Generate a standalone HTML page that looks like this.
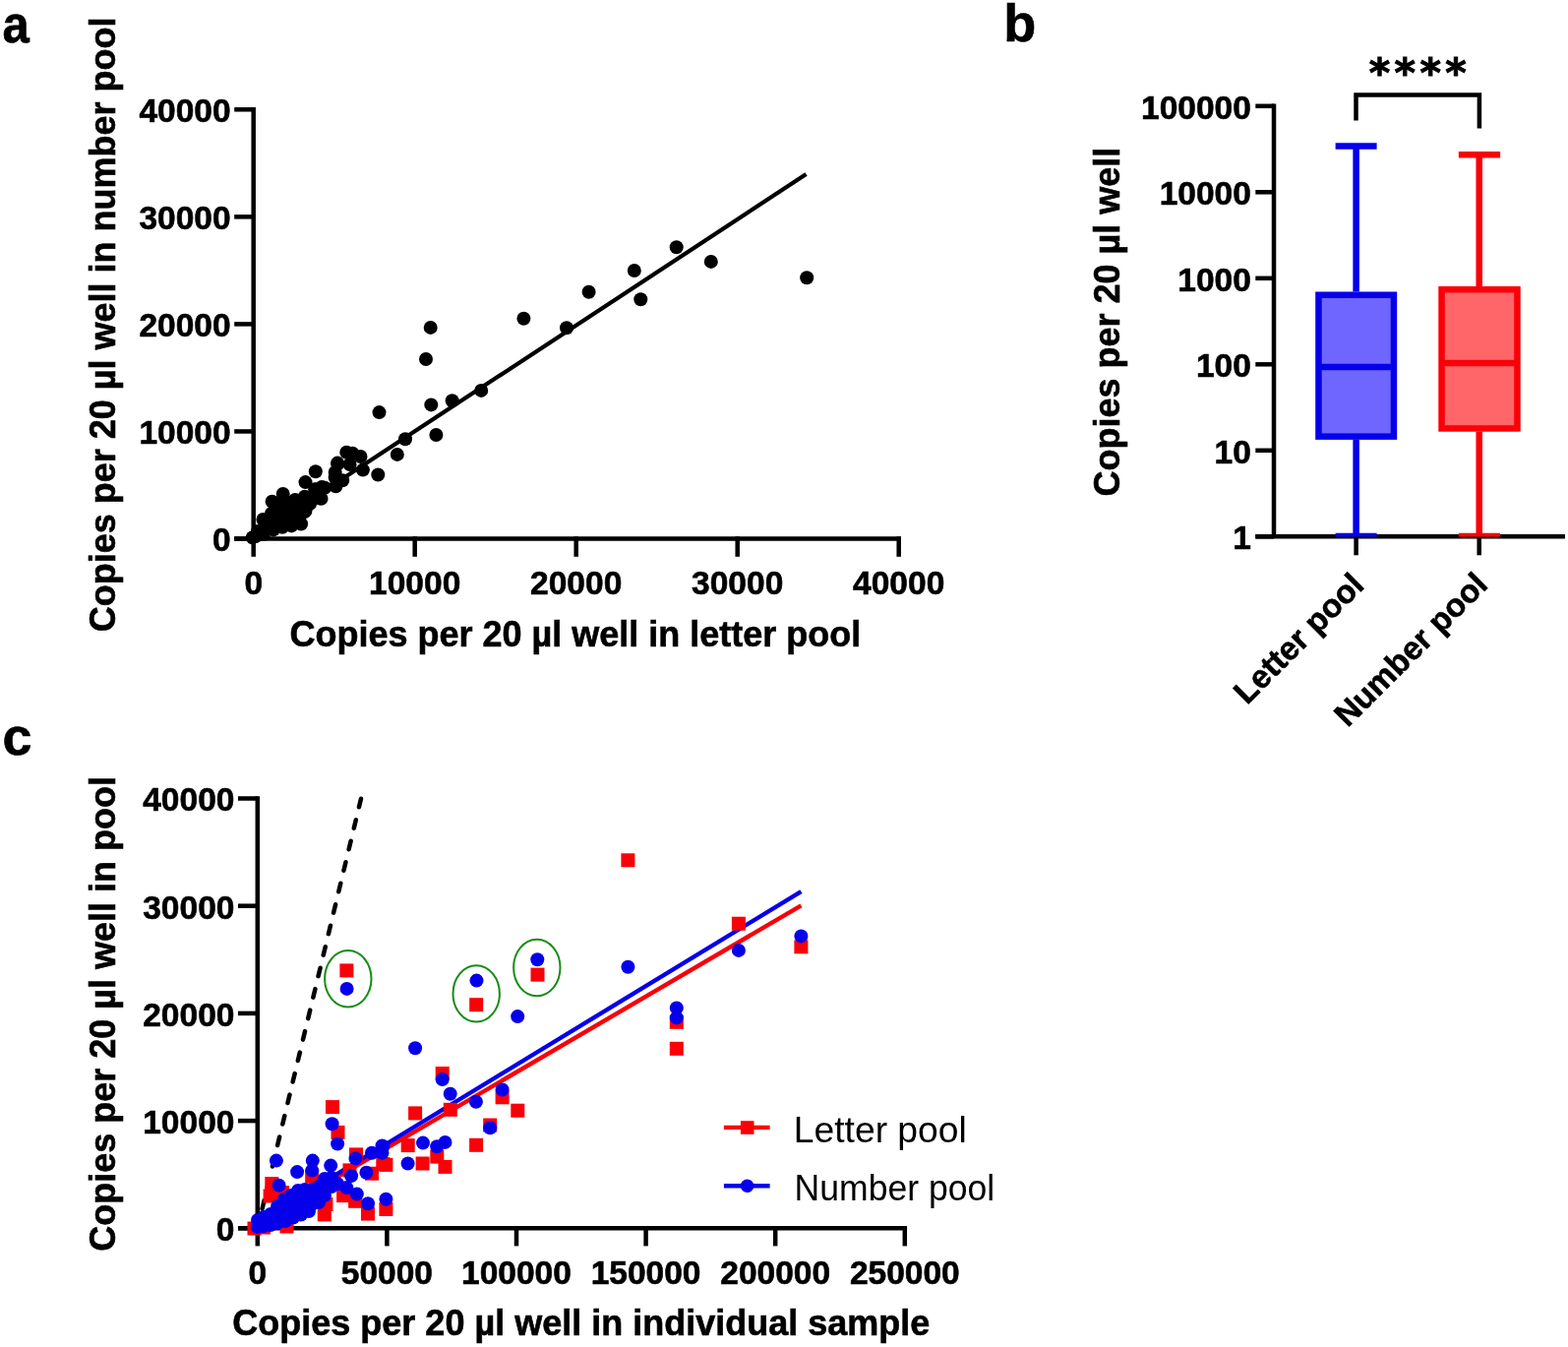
<!DOCTYPE html>
<html><head><meta charset="utf-8"><title>Figure</title>
<style>
html,body{margin:0;padding:0;background:#fff;}
svg{display:block;}
text{font-family:"Liberation Sans", Arial, Helvetica, sans-serif;fill:#000;}
text[font-weight="bold"]{stroke:#000;stroke-width:0.6px;}
</style></head>
<body>
<svg width="1594" height="1369" viewBox="0 0 1594 1369">
<rect width="1594" height="1369" fill="#fff"/>
<path d="M257.7 109.05 V547.5" stroke="#000" stroke-width="4.5" fill="none"/>
<line x1="238.2" y1="547.5" x2="257.7" y2="547.5" stroke="#000" stroke-width="4.5" />
<text x="234.6" y="560.3" font-size="33.5" text-anchor="end" font-weight="bold" >0</text>
<line x1="238.2" y1="438.45" x2="257.7" y2="438.45" stroke="#000" stroke-width="4.5" />
<text x="234.6" y="451.25" font-size="33.5" text-anchor="end" font-weight="bold" >10000</text>
<line x1="238.2" y1="329.4" x2="257.7" y2="329.4" stroke="#000" stroke-width="4.5" />
<text x="234.6" y="342.2" font-size="33.5" text-anchor="end" font-weight="bold" >20000</text>
<line x1="238.2" y1="220.35" x2="257.7" y2="220.35" stroke="#000" stroke-width="4.5" />
<text x="234.6" y="233.15" font-size="33.5" text-anchor="end" font-weight="bold" >30000</text>
<line x1="238.2" y1="111.3" x2="257.7" y2="111.3" stroke="#000" stroke-width="4.5" />
<text x="234.6" y="124.1" font-size="33.5" text-anchor="end" font-weight="bold" >40000</text>
<line x1="238.2" y1="547.5" x2="915.95" y2="547.5" stroke="#000" stroke-width="4.5" />
<line x1="257.7" y1="545.25" x2="257.7" y2="565.8" stroke="#000" stroke-width="4.5" />
<text x="257.7" y="603.7" font-size="33.5" text-anchor="middle" font-weight="bold" >0</text>
<line x1="421.7" y1="545.25" x2="421.7" y2="565.8" stroke="#000" stroke-width="4.5" />
<text x="421.7" y="603.7" font-size="33.5" text-anchor="middle" font-weight="bold" >10000</text>
<line x1="585.7" y1="545.25" x2="585.7" y2="565.8" stroke="#000" stroke-width="4.5" />
<text x="585.7" y="603.7" font-size="33.5" text-anchor="middle" font-weight="bold" >20000</text>
<line x1="749.7" y1="545.25" x2="749.7" y2="565.8" stroke="#000" stroke-width="4.5" />
<text x="749.7" y="603.7" font-size="33.5" text-anchor="middle" font-weight="bold" >30000</text>
<line x1="913.7" y1="545.25" x2="913.7" y2="565.8" stroke="#000" stroke-width="4.5" />
<text x="913.7" y="603.7" font-size="33.5" text-anchor="middle" font-weight="bold" >40000</text>
<text transform="translate(117.4 329.9) rotate(-90)" font-size="36" text-anchor="middle" font-weight="bold">Copies per 20 µl well in number pool</text>
<text x="584.9" y="656.6" font-size="36" text-anchor="middle" font-weight="bold" >Copies per 20 µl well in letter pool</text>
<text x="2.4" y="42.8" font-size="54" text-anchor="start" font-weight="bold" textLength="27.3" lengthAdjust="spacingAndGlyphs">a</text>
<line x1="257.7" y1="546" x2="819.5" y2="177.1" stroke="#000" stroke-width="4.2" stroke-linecap="butt"/>
<g fill="#000">
<circle cx="820.2" cy="282.2" r="7.0"/>
<circle cx="722.8" cy="265.9" r="7.0"/>
<circle cx="687.7" cy="251.2" r="7.0"/>
<circle cx="644.8" cy="275" r="7.0"/>
<circle cx="651.3" cy="304.3" r="7.0"/>
<circle cx="598.6" cy="296.8" r="7.0"/>
<circle cx="576" cy="333.3" r="7.0"/>
<circle cx="532.4" cy="323.8" r="7.0"/>
<circle cx="437.7" cy="332.9" r="7.0"/>
<circle cx="433" cy="365" r="7.0"/>
<circle cx="385.5" cy="419.1" r="7.0"/>
<circle cx="438.3" cy="411.4" r="7.0"/>
<circle cx="459.7" cy="407.3" r="7.0"/>
<circle cx="489.2" cy="396.9" r="7.0"/>
<circle cx="412" cy="446.2" r="7.0"/>
<circle cx="443.4" cy="442" r="7.0"/>
<circle cx="403.8" cy="461.9" r="7.0"/>
<circle cx="384.3" cy="482.5" r="7.0"/>
<circle cx="352.3" cy="459.8" r="7.0"/>
<circle cx="358.3" cy="460.8" r="7.0"/>
<circle cx="366.5" cy="464" r="7.0"/>
<circle cx="343.1" cy="470.6" r="7.0"/>
<circle cx="355.6" cy="472" r="7.0"/>
<circle cx="343.3" cy="471.6" r="7.0"/>
<circle cx="340.7" cy="479.9" r="7.0"/>
<circle cx="340.7" cy="485.2" r="7.0"/>
<circle cx="348.2" cy="488.2" r="7.0"/>
<circle cx="368.9" cy="477.6" r="7.0"/>
<circle cx="341.4" cy="494.2" r="7.0"/>
<circle cx="330.1" cy="495.7" r="7.0"/>
<circle cx="320.3" cy="497.2" r="7.0"/>
<circle cx="324.8" cy="506.3" r="7.0"/>
<circle cx="309.8" cy="504.8" r="7.0"/>
<circle cx="317.3" cy="507.8" r="7.0"/>
<circle cx="310.5" cy="519.1" r="7.0"/>
<circle cx="303.8" cy="513.8" r="7.0"/>
<circle cx="304.5" cy="525.1" r="7.0"/>
<circle cx="320.8" cy="479.2" r="7.0"/>
<circle cx="310.5" cy="490.1" r="7.0"/>
<circle cx="287.7" cy="501.9" r="7.0"/>
<circle cx="276.6" cy="509.8" r="7.0"/>
<circle cx="320.6" cy="497.6" r="7.0"/>
<circle cx="327.2" cy="495" r="7.0"/>
<circle cx="326.5" cy="506.8" r="7.0"/>
<circle cx="309.8" cy="520" r="7.0"/>
<circle cx="306.1" cy="532.5" r="7.0"/>
<circle cx="296.3" cy="534.4" r="7.0"/>
<circle cx="287.1" cy="535.7" r="7.0"/>
<circle cx="267.4" cy="527.9" r="7.0"/>
<circle cx="275.9" cy="521.9" r="7.0"/>
<circle cx="256.8" cy="546.3" r="7.0"/>
<circle cx="264.7" cy="542.3" r="7.0"/>
<circle cx="277.9" cy="538.4" r="7.0"/>
<circle cx="295" cy="515" r="7.0"/>
<circle cx="300" cy="522" r="7.0"/>
<circle cx="290" cy="525" r="7.0"/>
<circle cx="285" cy="518" r="7.0"/>
<circle cx="280" cy="528" r="7.0"/>
<circle cx="270" cy="535" r="7.0"/>
<circle cx="262" cy="540" r="7.0"/>
<circle cx="300" cy="508" r="7.0"/>
<circle cx="315" cy="512" r="7.0"/>
<circle cx="295" cy="530" r="7.0"/>
<circle cx="282" cy="512" r="7.0"/>
<circle cx="290" cy="510" r="7.0"/>
<circle cx="272" cy="530" r="7.0"/>
<circle cx="260" cy="545" r="7.0"/>
<circle cx="268" cy="543" r="7.0"/>
</g>
<path d="M1295 105.55 V545.3" stroke="#000" stroke-width="4.5" fill="none"/>
<line x1="1276.3" y1="545.3" x2="1295" y2="545.3" stroke="#000" stroke-width="4.5" />
<text x="1271.8" y="558.1" font-size="33.5" text-anchor="end" font-weight="bold" >1</text>
<line x1="1276.3" y1="457.8" x2="1295" y2="457.8" stroke="#000" stroke-width="4.5" />
<text x="1271.8" y="470.6" font-size="33.5" text-anchor="end" font-weight="bold" >10</text>
<line x1="1276.3" y1="370.3" x2="1295" y2="370.3" stroke="#000" stroke-width="4.5" />
<text x="1271.8" y="383.1" font-size="33.5" text-anchor="end" font-weight="bold" >100</text>
<line x1="1276.3" y1="282.8" x2="1295" y2="282.8" stroke="#000" stroke-width="4.5" />
<text x="1271.8" y="295.6" font-size="33.5" text-anchor="end" font-weight="bold" >1000</text>
<line x1="1276.3" y1="195.3" x2="1295" y2="195.3" stroke="#000" stroke-width="4.5" />
<text x="1271.8" y="208.1" font-size="33.5" text-anchor="end" font-weight="bold" >10000</text>
<line x1="1276.3" y1="107.8" x2="1295" y2="107.8" stroke="#000" stroke-width="4.5" />
<text x="1271.8" y="120.6" font-size="33.5" text-anchor="end" font-weight="bold" >100000</text>
<line x1="1276.3" y1="545.3" x2="1591" y2="545.3" stroke="#000" stroke-width="4.5" />
<line x1="1378.6" y1="545.3" x2="1378.6" y2="564.3" stroke="#000" stroke-width="4.5" />
<line x1="1503.7" y1="545.3" x2="1503.7" y2="564.3" stroke="#000" stroke-width="4.5" />
<text transform="translate(1137.9 327.1) rotate(-90)" font-size="36" text-anchor="middle" font-weight="bold" dy="0">Copies per 20 µl well</text>
<text x="1020.2" y="41.5" font-size="54" text-anchor="start" font-weight="bold" >b</text>
<line x1="1378.6" y1="148.6" x2="1378.6" y2="296.5" stroke="#0600ea" stroke-width="6.5" />
<line x1="1378.6" y1="446.9" x2="1378.6" y2="543.6" stroke="#0600ea" stroke-width="6.5" />
<line x1="1357.6" y1="148.6" x2="1399.6" y2="148.6" stroke="#0600ea" stroke-width="6.5" />
<line x1="1357.6" y1="543.6" x2="1399.6" y2="543.6" stroke="#0600ea" stroke-width="3.8" />
<rect x="1340.45" y="299.75" width="76.5" height="143.9" fill="#6e66ff" stroke="#0600ea" stroke-width="6.5"/>
<line x1="1340.45" y1="373" x2="1416.95" y2="373" stroke="#0600ea" stroke-width="6.5" />
<line x1="1503.7" y1="157.3" x2="1503.7" y2="291" stroke="#fa0008" stroke-width="6.5" />
<line x1="1503.7" y1="438.7" x2="1503.7" y2="543.6" stroke="#fa0008" stroke-width="6.5" />
<line x1="1482.8" y1="157.3" x2="1525.1" y2="157.3" stroke="#fa0008" stroke-width="6.5" />
<line x1="1482.8" y1="543.6" x2="1525.1" y2="543.6" stroke="#fa0008" stroke-width="3.8" />
<rect x="1465.55" y="294.25" width="76.9" height="141.2" fill="#ff6669" stroke="#fa0008" stroke-width="6.5"/>
<line x1="1465.55" y1="369" x2="1542.45" y2="369" stroke="#fa0008" stroke-width="6.5" />
<path d="M1378.5 122.5 V96.6 H1503.9 V130.5" stroke="#000" stroke-width="4.5" fill="none"/>
<text x="1443.4" y="88.3" font-size="41" text-anchor="middle" font-weight="bold" stroke="#000" stroke-width="1" style="font-family:'DejaVu Sans', sans-serif;letter-spacing:4.4px;stroke-width:1px">****</text>
<text transform="translate(1388.3 596.5) rotate(-45)" font-size="33" text-anchor="end" font-weight="bold">Letter pool</text>
<text transform="translate(1513.9 596.1) rotate(-45)" font-size="33" text-anchor="end" font-weight="bold">Number pool</text>
<path d="M261.8 809.25 V1248.3" stroke="#000" stroke-width="4.5" fill="none"/>
<line x1="242" y1="1248.3" x2="261.8" y2="1248.3" stroke="#000" stroke-width="4.5" />
<text x="238.4" y="1261.1" font-size="33.5" text-anchor="end" font-weight="bold" >0</text>
<line x1="242" y1="1139.1" x2="261.8" y2="1139.1" stroke="#000" stroke-width="4.5" />
<text x="238.4" y="1151.9" font-size="33.5" text-anchor="end" font-weight="bold" >10000</text>
<line x1="242" y1="1029.9" x2="261.8" y2="1029.9" stroke="#000" stroke-width="4.5" />
<text x="238.4" y="1042.7" font-size="33.5" text-anchor="end" font-weight="bold" >20000</text>
<line x1="242" y1="920.7" x2="261.8" y2="920.7" stroke="#000" stroke-width="4.5" />
<text x="238.4" y="933.5" font-size="33.5" text-anchor="end" font-weight="bold" >30000</text>
<line x1="242" y1="811.5" x2="261.8" y2="811.5" stroke="#000" stroke-width="4.5" />
<text x="238.4" y="824.3" font-size="33.5" text-anchor="end" font-weight="bold" >40000</text>
<line x1="242" y1="1248.3" x2="922.05" y2="1248.3" stroke="#000" stroke-width="4.5" />
<line x1="261.8" y1="1246.05" x2="261.8" y2="1266.4" stroke="#000" stroke-width="4.5" />
<text x="261.8" y="1304.5" font-size="33.5" text-anchor="middle" font-weight="bold" >0</text>
<line x1="393.4" y1="1246.05" x2="393.4" y2="1266.4" stroke="#000" stroke-width="4.5" />
<text x="393.4" y="1304.5" font-size="33.5" text-anchor="middle" font-weight="bold" >50000</text>
<line x1="525" y1="1246.05" x2="525" y2="1266.4" stroke="#000" stroke-width="4.5" />
<text x="525" y="1304.5" font-size="33.5" text-anchor="middle" font-weight="bold" >100000</text>
<line x1="656.6" y1="1246.05" x2="656.6" y2="1266.4" stroke="#000" stroke-width="4.5" />
<text x="656.6" y="1304.5" font-size="33.5" text-anchor="middle" font-weight="bold" >150000</text>
<line x1="788.2" y1="1246.05" x2="788.2" y2="1266.4" stroke="#000" stroke-width="4.5" />
<text x="788.2" y="1304.5" font-size="33.5" text-anchor="middle" font-weight="bold" >200000</text>
<line x1="919.8" y1="1246.05" x2="919.8" y2="1266.4" stroke="#000" stroke-width="4.5" />
<text x="919.8" y="1304.5" font-size="33.5" text-anchor="middle" font-weight="bold" >250000</text>
<text transform="translate(117.2 1030.4) rotate(-90)" font-size="36" text-anchor="middle" font-weight="bold">Copies per 20 µl well in pool</text>
<text x="590.8" y="1356.6" font-size="36" text-anchor="middle" font-weight="bold" >Copies per 20 µl well in individual sample</text>
<text x="2.4" y="767" font-size="54" text-anchor="start" font-weight="bold" >c</text>
<line x1="261.8" y1="1248.3" x2="367.08" y2="811.5" stroke="#000" stroke-width="4.5" stroke-dasharray="8.7 13.4" stroke-linecap="round" stroke-dashoffset="1.7"/>
<ellipse cx="353.8" cy="994.8" rx="23.7" ry="28.7" fill="none" stroke="#178c17" stroke-width="2"/>
<ellipse cx="484.2" cy="1009.9" rx="23.7" ry="28.7" fill="none" stroke="#178c17" stroke-width="2"/>
<ellipse cx="545.8" cy="983.5" rx="23.7" ry="28.7" fill="none" stroke="#178c17" stroke-width="2"/>
<line x1="261.8" y1="1243.7" x2="814.4" y2="920.4" stroke="#fa0008" stroke-width="4.4" />
<line x1="261.8" y1="1242.3" x2="814.4" y2="906.1" stroke="#0600ea" stroke-width="4.4" />
<g fill="#fa0008">
<rect x="345.4" y="979.4" width="14.0" height="14.0"/>
<rect x="477.2" y="1014.2" width="14.0" height="14.0"/>
<rect x="539.5" y="983.6" width="14.0" height="14.0"/>
<rect x="631.4" y="867.3" width="14.0" height="14.0"/>
<rect x="743.9" y="931.7" width="14.0" height="14.0"/>
<rect x="807.4" y="955.3" width="14.0" height="14.0"/>
<rect x="680.8" y="1031.8" width="14.0" height="14.0"/>
<rect x="680.8" y="1058.8" width="14.0" height="14.0"/>
<rect x="442.7" y="1084" width="14.0" height="14.0"/>
<rect x="450.8" y="1120.8" width="14.0" height="14.0"/>
<rect x="415.1" y="1124.4" width="14.0" height="14.0"/>
<rect x="503.6" y="1108.3" width="14.0" height="14.0"/>
<rect x="519.3" y="1121.7" width="14.0" height="14.0"/>
<rect x="491.2" y="1136.5" width="14.0" height="14.0"/>
<rect x="477.1" y="1156.8" width="14.0" height="14.0"/>
<rect x="407.7" y="1157.1" width="14.0" height="14.0"/>
<rect x="437.3" y="1168.6" width="14.0" height="14.0"/>
<rect x="445.5" y="1178.9" width="14.0" height="14.0"/>
<rect x="422.6" y="1175.5" width="14.0" height="14.0"/>
<rect x="385.4" y="1176.9" width="14.0" height="14.0"/>
<rect x="385.4" y="1222" width="14.0" height="14.0"/>
<rect x="331" y="1118.1" width="14.0" height="14.0"/>
<rect x="336.5" y="1143.9" width="14.0" height="14.0"/>
<rect x="310.2" y="1188.6" width="14.0" height="14.0"/>
<rect x="355" y="1166.4" width="14.0" height="14.0"/>
<rect x="382.3" y="1176" width="14.0" height="14.0"/>
<rect x="371" y="1185.7" width="14.0" height="14.0"/>
<rect x="348.5" y="1182.4" width="14.0" height="14.0"/>
<rect x="342.1" y="1208.1" width="14.0" height="14.0"/>
<rect x="354.1" y="1213.8" width="14.0" height="14.0"/>
<rect x="367" y="1226.6" width="14.0" height="14.0"/>
<rect x="324.4" y="1217" width="14.0" height="14.0"/>
<rect x="322.8" y="1227.4" width="14.0" height="14.0"/>
<rect x="267.6" y="1208.5" width="14.0" height="14.0"/>
<rect x="269.3" y="1196" width="14.0" height="14.0"/>
<rect x="280" y="1205.1" width="14.0" height="14.0"/>
<rect x="284.5" y="1239.5" width="14.0" height="14.0"/>
<rect x="251.5" y="1241.5" width="14.0" height="14.0"/>
<rect x="261" y="1240.5" width="14.0" height="14.0"/>
</g>
<g fill="#0600ea">
<circle cx="352.6" cy="1004.9" r="7.0"/>
<circle cx="484.5" cy="996.6" r="7.0"/>
<circle cx="546.3" cy="975.2" r="7.0"/>
<circle cx="526.2" cy="1033.1" r="7.0"/>
<circle cx="422.1" cy="1065.2" r="7.0"/>
<circle cx="638.4" cy="982.7" r="7.0"/>
<circle cx="750.9" cy="965.9" r="7.0"/>
<circle cx="814.4" cy="951.4" r="7.0"/>
<circle cx="687.8" cy="1024.4" r="7.0"/>
<circle cx="687.8" cy="1034.4" r="7.0"/>
<circle cx="449.7" cy="1097.1" r="7.0"/>
<circle cx="457.7" cy="1111.8" r="7.0"/>
<circle cx="483.9" cy="1119.7" r="7.0"/>
<circle cx="510.6" cy="1107.5" r="7.0"/>
<circle cx="498.2" cy="1146.2" r="7.0"/>
<circle cx="430" cy="1161.6" r="7.0"/>
<circle cx="444.2" cy="1165.2" r="7.0"/>
<circle cx="452.5" cy="1160.9" r="7.0"/>
<circle cx="414.6" cy="1182.5" r="7.0"/>
<circle cx="388.5" cy="1164.4" r="7.0"/>
<circle cx="392.4" cy="1218.7" r="7.0"/>
<circle cx="337.6" cy="1142.3" r="7.0"/>
<circle cx="343.1" cy="1162.5" r="7.0"/>
<circle cx="280.9" cy="1179.6" r="7.0"/>
<circle cx="302.1" cy="1191.1" r="7.0"/>
<circle cx="317.8" cy="1179.6" r="7.0"/>
<circle cx="317.2" cy="1189.6" r="7.0"/>
<circle cx="336.2" cy="1184.6" r="7.0"/>
<circle cx="361.5" cy="1177.4" r="7.0"/>
<circle cx="378" cy="1171.8" r="7.0"/>
<circle cx="389.3" cy="1165.3" r="7.0"/>
<circle cx="388.5" cy="1171.8" r="7.0"/>
<circle cx="372.4" cy="1191.8" r="7.0"/>
<circle cx="357.1" cy="1195.1" r="7.0"/>
<circle cx="352.3" cy="1207.1" r="7.0"/>
<circle cx="362.8" cy="1213.5" r="7.0"/>
<circle cx="374" cy="1223.2" r="7.0"/>
<circle cx="283.6" cy="1204.8" r="7.0"/>
<circle cx="262" cy="1240" r="7.0"/>
<circle cx="262" cy="1247" r="7.0"/>
<circle cx="268" cy="1237" r="7.0"/>
<circle cx="268" cy="1246" r="7.0"/>
<circle cx="275" cy="1234" r="7.0"/>
<circle cx="275" cy="1245" r="7.0"/>
<circle cx="282" cy="1226" r="7.0"/>
<circle cx="282" cy="1236" r="7.0"/>
<circle cx="282" cy="1243" r="7.0"/>
<circle cx="289" cy="1219" r="7.0"/>
<circle cx="289" cy="1228" r="7.0"/>
<circle cx="289" cy="1237" r="7.0"/>
<circle cx="296" cy="1215" r="7.0"/>
<circle cx="296" cy="1225" r="7.0"/>
<circle cx="296" cy="1234" r="7.0"/>
<circle cx="303" cy="1210" r="7.0"/>
<circle cx="303" cy="1220" r="7.0"/>
<circle cx="303" cy="1230" r="7.0"/>
<circle cx="310" cy="1209" r="7.0"/>
<circle cx="310" cy="1218" r="7.0"/>
<circle cx="310" cy="1227" r="7.0"/>
<circle cx="317" cy="1209" r="7.0"/>
<circle cx="317" cy="1217" r="7.0"/>
<circle cx="317" cy="1224" r="7.0"/>
<circle cx="324" cy="1206" r="7.0"/>
<circle cx="324" cy="1214" r="7.0"/>
<circle cx="324" cy="1222" r="7.0"/>
<circle cx="330" cy="1198" r="7.0"/>
<circle cx="330" cy="1207" r="7.0"/>
<circle cx="330" cy="1215" r="7.0"/>
<circle cx="337" cy="1197" r="7.0"/>
<circle cx="337" cy="1206" r="7.0"/>
<circle cx="343" cy="1203" r="7.0"/>
<circle cx="290" cy="1241" r="7.0"/>
<circle cx="298" cy="1237.5" r="7.0"/>
<circle cx="306" cy="1234.5" r="7.0"/>
<circle cx="314" cy="1231" r="7.0"/>
</g>
<line x1="735.9" y1="1145.9" x2="782.6" y2="1145.9" stroke="#fa0008" stroke-width="4.4" />
<rect x="752.9" y="1139.2" width="13.6" height="13.6" fill="#fa0008"/>
<line x1="735.9" y1="1205.2" x2="782.6" y2="1205.2" stroke="#0600ea" stroke-width="4.4" />
<circle cx="759.6" cy="1205.2" r="6.8" fill="#0600ea"/>
<text x="806.8" y="1161.2" font-size="37" font-weight="normal" textLength="176" lengthAdjust="spacingAndGlyphs">Letter pool</text>
<text x="807.6" y="1220.3" font-size="37" font-weight="normal" textLength="203.5" lengthAdjust="spacingAndGlyphs">Number pool</text>
</svg>
</body></html>
